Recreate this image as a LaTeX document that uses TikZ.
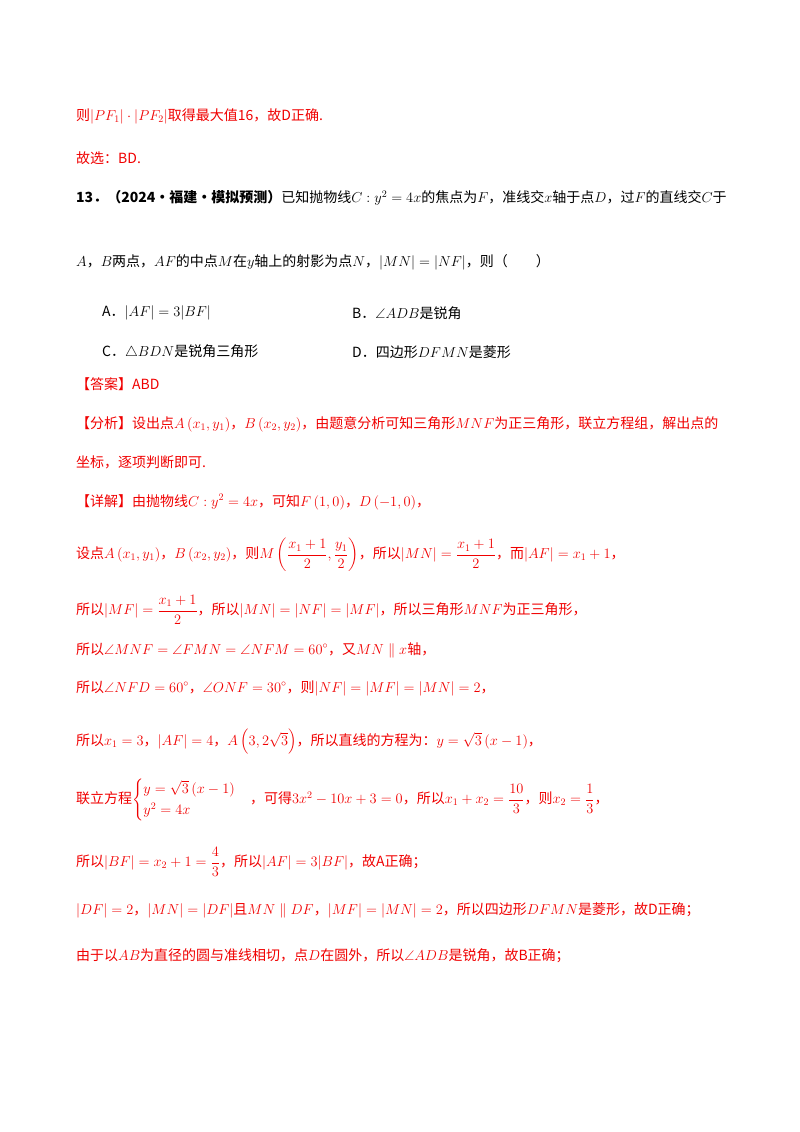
\documentclass[tikz,border=0pt]{standalone}
\usepackage{amsmath,amssymb}
\usepackage{fontspec}
\newfontfamily\cjk{Noto Sans CJK SC}
\definecolor{myred}{RGB}{240,0,0}
\tikzset{ln/.style={anchor=west,inner sep=0pt,font=\cjk\fontsize{14}{17}\selectfont},
 rd/.style={ln,text=myred},bk/.style={ln,text=black}}
\begin{document}
\begin{tikzpicture}[x=1pt,y=-1pt]
\useasboundingbox (0,0) rectangle (800,1132);
\node[rd] (l1) at (76,116) {则$\left|PF_1\right|\cdot\left|PF_2\right|$取得最大值16，故D正确.};
\node[rd] (l2) at (76,158) {故选：BD.};
\node[bk] (l3) at (76,198) {\textbf{13．（2024·福建·模拟预测）}已知抛物线$C:y^2=4x$的焦点为$F$，准线交$x$轴于点$D$，过$F$的直线交$C$于};
\node[bk] (l4) at (76,262) {$A$，$B$两点，$AF$的中点$M$在$y$轴上的射影为点$N$，$|MN|=|NF|$，则（\qquad）};
\node[bk] (oA) at (102,313) {A．$|AF|=3|BF|$};
\node[bk] (oB) at (352,313) {B．$\angle ADB$是锐角};
\node[bk] (oC) at (102,352) {C．$\triangle BDN$是锐角三角形};
\node[bk] (oD) at (352,352) {D．四边形$DFMN$是菱形};
\node[rd] (a1) at (76,384) {【答案】ABD};
\node[rd] (a2) at (76,424) {【分析】设出点$A\left(x_1,y_1\right)$，$B\left(x_2,y_2\right)$，由题意分析可知三角形$MNF$为正三角形，联立方程组，解出点的};
\node[rd] (a3) at (76,462) {坐标，逐项判断即可.};
\node[rd] (a4) at (76,502) {【详解】由抛物线$C:y^2=4x$，可知$F\left(1,0\right)$，$D\left(-1,0\right)$，};
\node[rd] (a5) at (76,555) {设点$A\left(x_1,y_1\right)$，$B\left(x_2,y_2\right)$，则$M\left(\dfrac{x_1+1}{2},\dfrac{y_1}{2}\right)$，所以$\left|MN\right|=\dfrac{x_1+1}{2}$，而$|AF|=x_1+1$，};
\node[rd] (a6) at (76,610) {所以$\left|MF\right|=\dfrac{x_1+1}{2}$，所以$\left|MN\right|=\left|NF\right|=\left|MF\right|$，所以三角形$MNF$为正三角形，};
\node[rd] (a7) at (76,650) {所以$\angle MNF=\angle FMN=\angle NFM=60^\circ$，又$MN\parallel x$轴，};
\node[rd] (a8) at (76,688) {所以$\angle NFD=60^\circ$，$\angle ONF=30^\circ$，则$\left|NF\right|=\left|MF\right|=\left|MN\right|=2$，};
\node[rd] (a9) at (76,742) {所以$x_1=3$，$|AF|=4$，$A\left(3,2\sqrt3\right)$，所以直线的方程为：$y=\sqrt3\left(x-1\right)$，};
\node[rd] (a10) at (76,800) {联立方程$\begin{cases}y=\sqrt3\left(x-1\right)\\ y^2=4x\end{cases}$，可得$3x^2-10x+3=0$，所以$x_1+x_2=\dfrac{10}{3}$，则$x_2=\dfrac13$，};
\node[rd] (a11) at (76,862) {所以$\left|BF\right|=x_2+1=\dfrac43$，所以$|AF|=3|BF|$，故A正确；};
\node[rd] (a12) at (76,910) {$|DF|=2$，$\left|MN\right|=\left|DF\right|$且$MN\parallel DF$，$\left|MF\right|=\left|MN\right|=2$，所以四边形$DFMN$是菱形，故D正确；};
\node[rd] (a13) at (76,956) {由于以$AB$为直径的圆与准线相切，点$D$在圆外，所以$\angle ADB$是锐角，故B正确；};
\end{tikzpicture}
\end{document}
